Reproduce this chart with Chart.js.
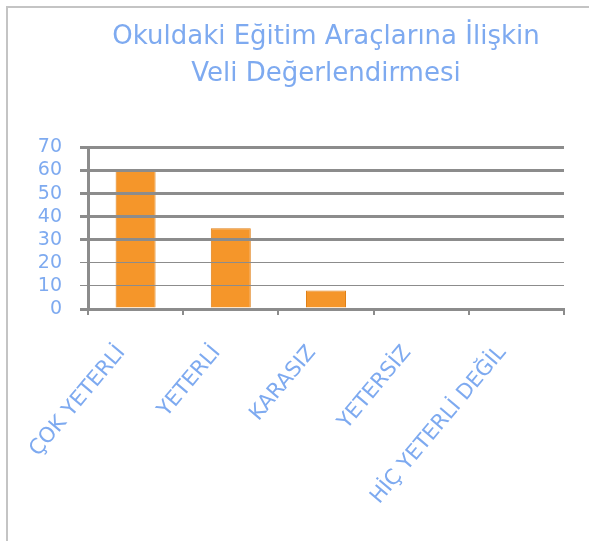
<!DOCTYPE html>
<html>
<head>
<meta charset="utf-8">
<script src="https://cdn.jsdelivr.net/npm/chart.js@4/dist/chart.umd.min.js"></script>
<style>
  html, body { margin: 0; padding: 0; background: #fff; }
  #wrap { width: 589px; height: 541px; }
</style>
</head>
<body>
<div id="wrap"><canvas id="grafik" width="589" height="541"></canvas></div>
<script>
const kategoriler = ['ÇOK YETERLİ', 'YETERLİ', 'KARASIZ', 'YETERSİZ', 'HİÇ YETERLİ DEĞİL'];
const degerler = [60, 35, 8, 0, 0];
const baslik = ['Okuldaki Eğitim Araçlarına İlişkin', 'Veli Değerlendirmesi'];

const mavi = '#7eaaf0';
const gri = '#8c8c8c';

// ince gri çerçeve (üst ve sol kenar)
const cerceve = {
    id: 'cerceve',
    beforeDraw(chart) {
        const ctx = chart.ctx;
        ctx.save();
        ctx.fillStyle = '#fff';
        ctx.fillRect(0, 0, chart.width, chart.height);
        ctx.strokeStyle = '#c4c4c4';
        ctx.lineWidth = 2;
        ctx.beginPath();
        ctx.moveTo(7, chart.height);
        ctx.lineTo(7, 7);
        ctx.lineTo(chart.width, 7);
        ctx.stroke();
        ctx.restore();
    }
};

new Chart(document.getElementById('grafik'), {
    type: 'bar',
    data: {
        labels: kategoriler,
        datasets: [{
            data: degerler,
            backgroundColor: '#f5962a',
            borderColor: '#e07f14',
            borderWidth: 1,
            barPercentage: 0.42,
            categoryPercentage: 1
        }]
    },
    options: {
        responsive: false,
        animation: false,
        layout: { padding: { top: 18, right: 25, bottom: 0, left: 0 } },
        plugins: {
            legend: { display: false },
            tooltip: { enabled: false },
            title: {
                display: true,
                fullSize: false,
                text: baslik,
                color: mavi,
                font: { family: 'DejaVu Sans', size: 26, weight: 'normal', lineHeight: 1.45 },
                padding: { top: 0, bottom: 54 }
            }
        },
        scales: {
            x: {
                afterFit(scale) { scale.height = 232; },
                grid: {
                    offset: true,
                    drawOnChartArea: false,
                    drawTicks: true,
                    tickLength: 6,
                    color: gri,
                    lineWidth: 2
                },
                border: { color: gri, width: 3, z: 1 },
                ticks: {
                    autoSkip: false,
                    color: mavi,
                    padding: 26,
                    labelOffset: -14,
                    minRotation: 50,
                    maxRotation: 50,
                    font: { family: 'DejaVu Sans', size: 21 }
                }
            },
            y: {
                min: 0,
                max: 70,
                afterFit(scale) { scale.width = 88; },
                grid: {
                    z: 1,
                    color: gri,
                    tickLength: 8,
                    lineWidth: ctx => (ctx.tick && (ctx.tick.value === 10 || ctx.tick.value === 20)) ? 1 : 3
                },
                border: { color: gri, width: 3, z: 1 },
                ticks: {
                    autoSkip: false,
                    stepSize: 10,
                    color: mavi,
                    padding: 18,
                    font: { family: 'DejaVu Sans', size: 19 }
                }
            }
        }
    },
    plugins: [cerceve]
});
</script>
</body>
</html>
